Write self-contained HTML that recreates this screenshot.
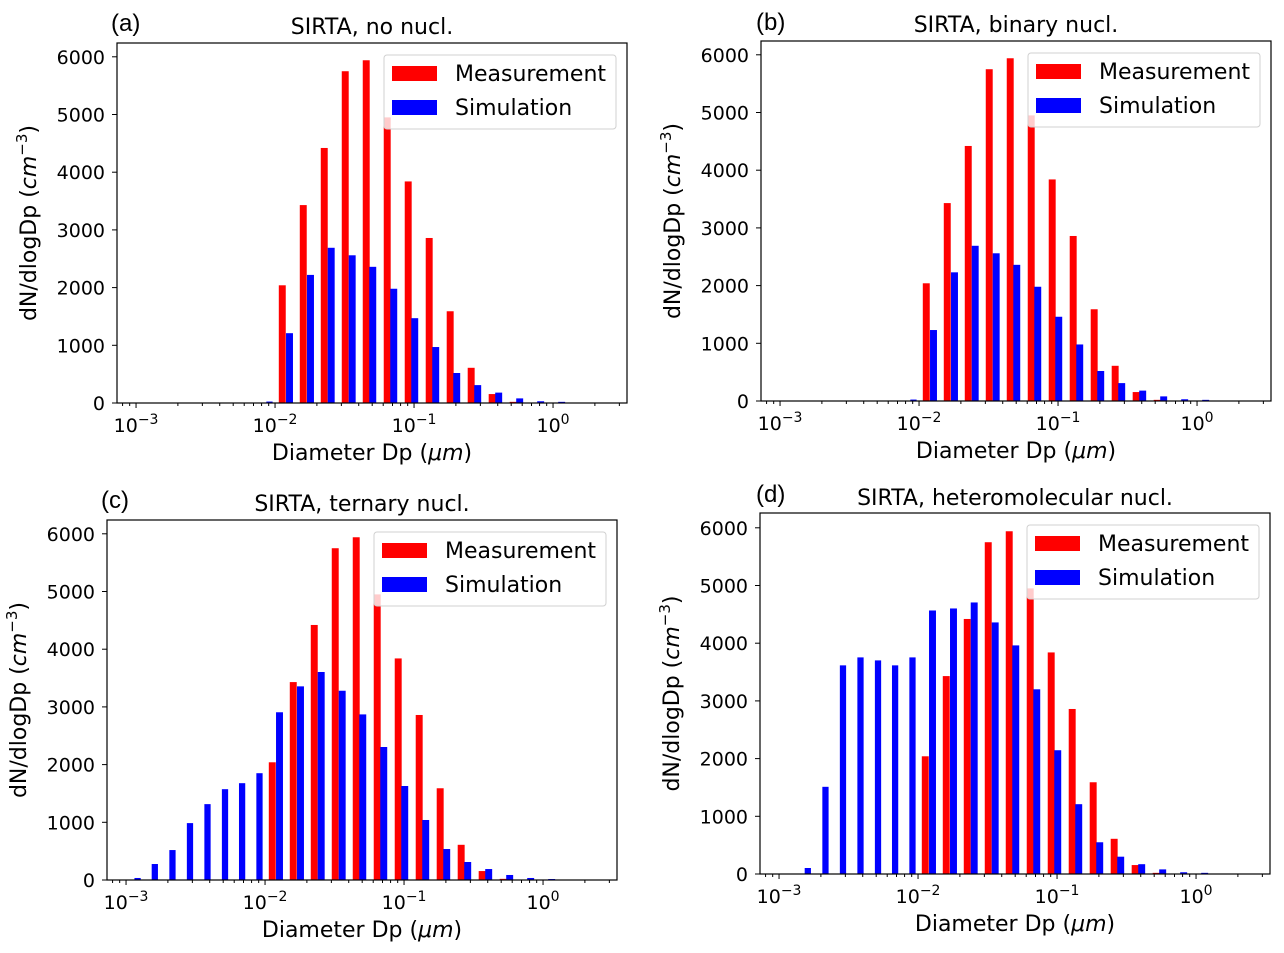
<!DOCTYPE html>
<html><head><meta charset="utf-8">
<style>
html,body{margin:0;padding:0;background:#fff;}
svg{display:block;font-family:"DejaVu Sans","Liberation Sans",sans-serif;}
</style></head>
<body>
<svg id="fig" width="1284" height="953" viewBox="0 0 1284 953" xmlns="http://www.w3.org/2000/svg"></svg>
<script>
// Measurement bins (log10 of diameter, µm, bar center) and values (shared by all panels)
const measLogD = [-1.948,-1.797,-1.646,-1.495,-1.344,-1.193,-1.042,-0.891,-0.740,-0.589,-0.438,-0.287];
const measVals = [2040,3430,4420,5750,5940,4950,3840,2860,1590,610,155,20];
// Simulation bins (log10 diameter, bar center)
const simLogD = [-2.917,-2.793,-2.666,-2.540,-2.414,-2.288,-2.165,-2.040,-1.896,-1.745,-1.596,-1.445,-1.297,-1.146,-0.995,-0.844,-0.693,-0.542,-0.391,-0.240,-0.089,0.062];
const simNoNucl   = [0,0,0,0,0,0,0,25,1210,2220,2690,2560,2360,1980,1470,970,520,310,180,80,30,20];
const simBinary   = [0,0,0,0,0,0,0,25,1230,2230,2690,2560,2360,1980,1460,980,520,310,180,80,30,20];
const simTernary  = [35,277,519,986,1315,1574,1678,1851,2907,3356,3605,3280,2870,2305,1629,1040,537,312,190,87,35,17];
const simHetero   = [0,104,1511,3616,3754,3702,3616,3754,4567,4602,4706,4360,3962,3201,2145,1210,550,300,170,80,30,20];
const yTicks = [0,1000,2000,3000,4000,5000,6000];
const xTickExp = [-3,-2,-1,0];
const panelTitles = ["SIRTA, no nucl.","SIRTA, binary nucl.","SIRTA, ternary nucl.","SIRTA, heteromolecular nucl."];
const panelLetters = ["(a)","(b)","(c)","(d)"];

const NS="http://www.w3.org/2000/svg";
const fig=document.getElementById('fig');
function mk(tag,attrs,parent){const e=document.createElementNS(NS,tag);for(const k in attrs)e.setAttribute(k,attrs[k]);(parent||fig).appendChild(e);return e;}

const panels=[
 {L:117,T:43,B:403,sim:simNoNucl,id:'a',ttlY:34,letX:111,letY:31},
 {L:761,T:41,B:401,sim:simBinary,id:'b',ttlY:32,letX:756,letY:30},
 {L:107,T:520,B:880,sim:simTernary,id:'c',ttlY:511,letX:101,letY:508},
 {L:760,T:513,B:874,sim:simHetero,id:'d',ttlY:505,letX:756,letY:502}
];
const W=510, DEC=139, LOGMIN=-3.137, YPX=57.7;
const BW=0.05;
const SBW=0.045;

panels.forEach((p,pi)=>{
  const g=mk('g',{});
  
  
  const xs=l=>p.L+(l-LOGMIN)*DEC;
  const ys=v=>p.B-v*YPX/1000;
  const mg=mk('g',{},g);
  
  
  measLogD.forEach((l,i)=>{
    const x0=xs(l-BW/2), x1=xs(l+BW/2);
    const r=mk('rect',{x:x0,y:ys(measVals[i]),width:x1-x0,height:p.B-ys(measVals[i]),fill:'#ff0000'},mg);
    
    
  });
  const sg=mk('g',{},g);
  
  
  simLogD.forEach((l,i)=>{
    const v=p.sim[i]; if(!v) return;
    const w=(l<-1.95)?SBW:BW;
    const x0=xs(l-w/2), x1=xs(l+w/2);
    const r=mk('rect',{x:x0,y:ys(v),width:x1-x0,height:p.B-ys(v),fill:'#0000ff'},sg);
    
    
  });
  const fr=mk('rect',{x:p.L,y:p.T,width:W,height:p.B-p.T,fill:'none',stroke:'#000','stroke-width':1.2},g);
  
  
  yTicks.forEach(v=>{
    const y=ys(v);
    mk('line',{x1:p.L-5,x2:p.L,y1:y,y2:y,stroke:'#000','stroke-width':1},g);
    const t=mk('text',{x:p.L-12,y:y+7,'font-size':19,'text-anchor':'end',fill:'#000'},g);
    t.textContent=String(v);
    
    
  });
  for(let e=-4;e<=0;e++){
    for(let k=1;k<=9;k++){
      const l=e+Math.log10(k);
      if(l<LOGMIN||l>LOGMIN+W/DEC) continue;
      const x=xs(l);
      mk('line',{x1:x,x2:x,y1:p.B,y2:p.B+(k===1?5:3),stroke:'#000','stroke-width':1},g);
    }
  }
  xTickExp.forEach(e=>{
    const x=xs(e);
    const t=mk('text',{x:x,y:p.B+29,'font-size':19,'text-anchor':'middle',fill:'#000'},g);
    
    
    const a=mk('tspan',{},t); a.textContent='10';
    const b=mk('tspan',{dy:-8,'font-size':14},t); b.textContent=(e<0?'\u2212':'')+Math.abs(e);
  });
  const xl=mk('text',{x:p.L+W/2,y:p.B+57,'font-size':22,'text-anchor':'middle',fill:'#000'},g);
  
  
  xl.innerHTML='Diameter Dp (<tspan font-style="italic">\u03bcm</tspan>)';
  const cy=(p.T+p.B)/2, cx=p.L-81;
  const yl=mk('text',{x:cx,y:cy,'font-size':22,'text-anchor':'middle',fill:'#000',transform:`rotate(-90 ${cx} ${cy})`},g);
  
  
  yl.innerHTML='dN/dlogDp (<tspan font-style="italic">cm</tspan><tspan dy="-9" font-size="15">\u22123</tspan><tspan dy="9">)</tspan>';
  const tt=mk('text',{x:p.L+W/2,y:p.ttlY,'font-size':22,'text-anchor':'middle',fill:'#000'},g);
  tt.textContent=panelTitles[pi];
  
  
  const lt=mk('text',{x:p.letX,y:p.letY,'font-size':24,fill:'#000','font-family':'Liberation Sans, sans-serif'},g);
  lt.textContent=panelLetters[pi];
  
  
  const lx=p.L+W-11-232, ly=p.T+12;
  const lg=mk('g',{},g);
  
  
  mk('rect',{x:lx,y:ly,width:232,height:74,rx:3,fill:'#fff','fill-opacity':0.8,stroke:'#d0d0d0','stroke-width':1},lg);
  [['Measurement','#ff0000'],['Simulation','#0000ff']].forEach((it,j)=>{
    const yy=ly+11+j*34;
    const sw=mk('rect',{x:lx+8,y:yy,width:45,height:15,fill:it[1]},lg);
    
    
    const t=mk('text',{x:lx+71,y:yy+15,'font-size':22,fill:'#000'},lg);
    t.textContent=it[0];
    
    
  });
});
</script>
</body></html>
